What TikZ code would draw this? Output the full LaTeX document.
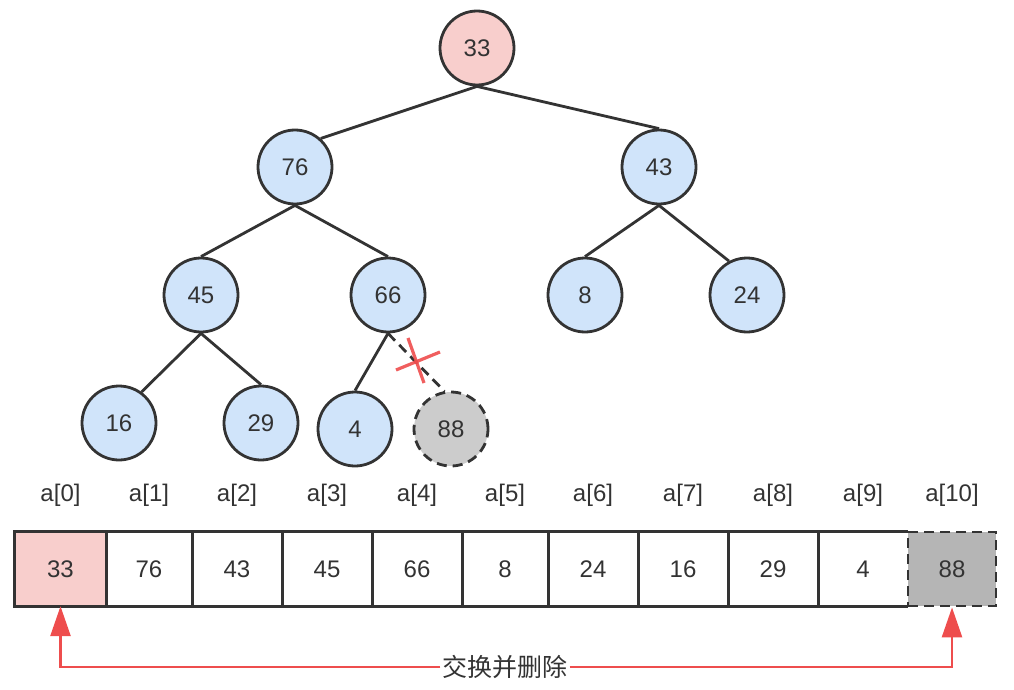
\documentclass[tikz,border=0pt]{standalone}
\usepackage{fontspec}
\setmainfont{Liberation Sans}
\newfontfamily\cjk{Noto Sans CJK SC}
\usetikzlibrary{arrows.meta}
\definecolor{ink}{HTML}{333333}
\definecolor{pinkf}{HTML}{F8CECC}
\definecolor{bluef}{HTML}{D0E4FA}
\definecolor{grayc}{HTML}{CCCCCC}
\definecolor{grayb}{HTML}{B5B5B5}
\definecolor{redl}{HTML}{EE4D4D}
\begin{document}
\begin{tikzpicture}[x=1pt,y=-1pt,
  font=\fontsize{24}{28}\selectfont, text=ink,
  tnode/.style={circle, draw=ink, line width=2.8pt, minimum size=74pt, inner sep=0pt, fill=bluef, text height=17pt, text depth=0pt},
  rootnode/.style={tnode, fill=pinkf},
  delnode/.style={tnode, fill=grayc, dash pattern=on 10pt off 6pt},
  edge/.style={draw=ink, line width=2.8pt},
  deledge/.style={edge, dash pattern=on 10pt off 6pt},
  cell/.style={rectangle, inner sep=0pt, minimum height=74pt, text height=17pt, text depth=0pt},
  cellline/.style={draw=ink, line width=2.8pt},
  idx/.style={inner sep=0pt},
  crossline/.style={draw=redl, line width=3.2pt, opacity=0.9},
  redarrow/.style={draw=redl, line width=2.6pt, -{Triangle[length=30pt,width=20pt]}},
  swaplabel/.style={font=\cjk\fontsize{25}{28}\selectfont, fill=white, inner sep=2pt}
]
\useasboundingbox (0,0) rectangle (1014,690);
% tree nodes
\node[rootnode] (n33) at (477,48) {33};
\node[tnode] (n76) at (295,167) {76};
\node[tnode] (n43) at (659,167) {43};
\node[tnode] (n45) at (201,295) {45};
\node[tnode] (n66) at (388,295) {66};
\node[tnode] (n8) at (585,295) {8};
\node[tnode] (n24) at (747,295) {24};
\node[tnode] (n16) at (119,423) {16};
\node[tnode] (n29) at (261,423) {29};
\node[tnode] (n4) at (355,429) {4};
\node[delnode] (n88) at (451,429) {88};
% edges
\draw[edge] (n33.south) -- (n76.48);
\draw[edge] (n33.south) -- (n43.north);
\draw[edge] (n76.south) -- (n45.north);
\draw[edge] (n76.south) -- (n66.north);
\draw[edge] (n43.south) -- (n8.north);
\draw[edge] (n43.south) -- (n24.118);
\draw[edge] (n45.south) -- (n16.54);
\draw[edge] (n45.south) -- (n29.north);
\draw[edge] (n66.south) -- (n4.north);
\draw[deledge] (n66.south) -- (n88.100);
% cross
\draw[crossline] (396,370) -- (440,352);
\draw[crossline] (408,338) -- (424,383);
% array cells
\node[cell, fill=pinkf, minimum width=91pt] (c0) at (60.5,569) {33};
\node[cell, minimum width=86pt] (c1) at (149,569) {76};
\node[cell, minimum width=90pt] (c2) at (237,569) {43};
\node[cell, minimum width=90pt] (c3) at (327,569) {45};
\node[cell, minimum width=90pt] (c4) at (417,569) {66};
\node[cell, minimum width=86pt] (c5) at (505,569) {8};
\node[cell, minimum width=90pt] (c6) at (593,569) {24};
\node[cell, minimum width=90pt] (c7) at (683,569) {16};
\node[cell, minimum width=90pt] (c8) at (773,569) {29};
\node[cell, minimum width=90pt] (c9) at (863,569) {4};
\node[cell, fill=grayb, minimum width=88pt, draw=ink, line width=2.8pt, dash pattern=on 10pt off 6pt] (c10) at (952,569) {88};
\draw[cellline] (c9.north east) -- (c0.north west) -- (c0.south west) -- (c9.south east);
\foreach \i/\j in {0/1,1/2,2/3,3/4,4/5,5/6,6/7,7/8,8/9}
  \draw[cellline] (c\i.north east) -- (c\i.south east);
% index labels
\foreach \i in {0,...,10}
  \node[idx] (l\i) at (c\i.center |- 0,495) {a[\i]};
% swap arrow
\node[swaplabel] (swap) at (505,667) {交换并删除};
\draw[redarrow] (swap.west) -| (c0.south);
\draw[redarrow] (swap.east) -| (c10.south);
\end{tikzpicture}
\end{document}
